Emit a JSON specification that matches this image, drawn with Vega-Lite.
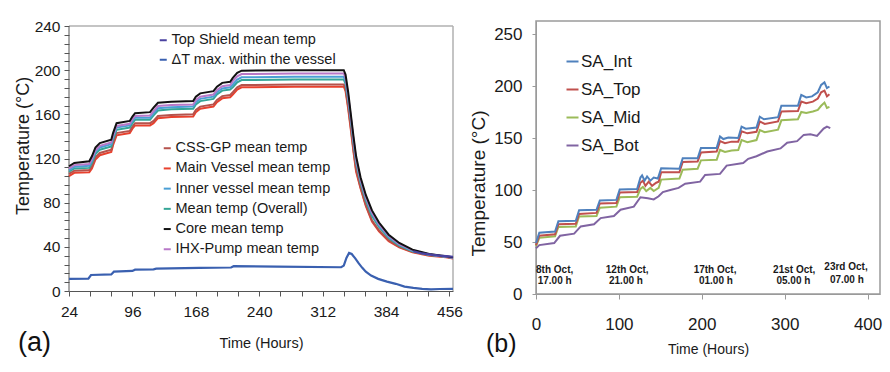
{
"$schema": "https://vega.github.io/schema/vega-lite/v6.json",
"padding": {"left": 14, "top": 19, "right": 0, "bottom": 0},
"background": "white",
"spacing": 83,
"bounds": "flush",
"resolve": {"scale": {"color": "independent", "stroke": "independent", "x": "independent", "y": "independent"}, "legend": {"color": "independent", "stroke": "independent"}},
"config": {
  "view": {"stroke": null},
  "font": "Liberation Sans",
  "axis": {"grid": false, "labelFont": "Liberation Sans", "titleFont": "Liberation Sans", "titleFontWeight": "normal", "labelColor": "#1a1a1a", "titleColor": "#1a1a1a", "labelOverlap": false, "labelFlush": false, "labelSeparation": 0},
  "legend": {"labelFont": "Liberation Sans", "labelColor": "#1a1a1a", "symbolType": "stroke", "padding": 0, "labelLimit": 400}
},
"hconcat": [
{
  "width": 384, "height": 270,
  "title": {"text": "(a)", "orient": "bottom", "anchor": "start", "frame": "group", "font": "Liberation Sans", "fontSize": 27, "fontWeight": "normal", "color": "#111", "dx": -51, "offset": -20},
  "encoding": {
    "x": {"field": "t", "type": "quantitative", "scale": {"domain": [24, 460], "nice": false, "zero": false},
          "axis": {"values": [24,48,72,96,120,144,168,192,216,240,264,288,312,336,360,384,408,432,456], "labelExpr": "(datum.value-24)%72==0 ? datum.label : ''", "labelOverlap": false, "labelSeparation": 0, "title": "Time (Hours)", "titleFontSize": 14.5, "titleX": 192, "titleY": 52.5, "titleBaseline": "middle", "labelFontSize": 15.5, "tickSize": 5, "labelPadding": 8, "domainColor": "#555", "tickColor": "#555"}},
    "y": {"field": "v", "type": "quantitative", "scale": {"domain": [0, 244.53], "nice": false, "zero": true},
          "axis": {"values": [0,8,16,24,32,40,48,56,64,72,80,88,96,104,112,120,128,136,144,152,160,168,176,184,192,200,208,216,224,232,240], "labelExpr": "datum.value%40==0 ? datum.label : ''", "labelOverlap": false, "labelSeparation": 0, "domain": false, "title": "Temperature (°C)", "titleFontSize": 18, "titleAngle": -90, "titleX": -45.5, "titleY": 124.5, "titleBaseline": "middle", "titleAlign": "center", "labelFontSize": 15.5, "tickSize": 5, "labelPadding": 4, "tickColor": "#555"}}
  },
  "layer": [
    {"data": {"values": [{"t": 24, "t2": 460, "v": 240}]}, "mark": {"type": "rule", "color": "#b0b0b0", "strokeWidth": 1.5}, "encoding": {"x2": {"field": "t2"}}},
    {"data": {"values": [{"t": 460, "v": 0, "v2": 240}]}, "mark": {"type": "rule", "color": "#b0b0b0", "strokeWidth": 1.5}, "encoding": {"y2": {"field": "v2"}}},
    {"data": {"values": [{"t": 24, "v": 0, "v2": 240}]}, "mark": {"type": "rule", "color": "#555", "strokeWidth": 1}, "encoding": {"y2": {"field": "v2"}}},
    {
      "data": {"values": [
{"s":"Main Vessel mean temp","t":24,"v":104},{"s":"Main Vessel mean temp","t":30,"v":107},{"s":"Main Vessel mean temp","t":47,"v":107.5},{"s":"Main Vessel mean temp","t":50,"v":111},{"s":"Main Vessel mean temp","t":54,"v":119},{"s":"Main Vessel mean temp","t":59,"v":123},{"s":"Main Vessel mean temp","t":72,"v":126},{"s":"Main Vessel mean temp","t":74,"v":132},{"s":"Main Vessel mean temp","t":78,"v":141},{"s":"Main Vessel mean temp","t":93,"v":143},{"s":"Main Vessel mean temp","t":96,"v":147},{"s":"Main Vessel mean temp","t":99,"v":150},{"s":"Main Vessel mean temp","t":116,"v":150},{"s":"Main Vessel mean temp","t":120,"v":152},{"s":"Main Vessel mean temp","t":125,"v":156.5},{"s":"Main Vessel mean temp","t":140,"v":157.5},{"s":"Main Vessel mean temp","t":165,"v":158},{"s":"Main Vessel mean temp","t":168,"v":162},{"s":"Main Vessel mean temp","t":173,"v":165},{"s":"Main Vessel mean temp","t":188,"v":167},{"s":"Main Vessel mean temp","t":192,"v":171},{"s":"Main Vessel mean temp","t":198,"v":174.5},{"s":"Main Vessel mean temp","t":207,"v":175.5},{"s":"Main Vessel mean temp","t":210,"v":178},{"s":"Main Vessel mean temp","t":215,"v":182.5},{"s":"Main Vessel mean temp","t":220,"v":184.5},{"s":"Main Vessel mean temp","t":280,"v":185},{"s":"Main Vessel mean temp","t":336,"v":185},{"s":"Main Vessel mean temp","t":338,"v":181},{"s":"Main Vessel mean temp","t":341,"v":165},{"s":"Main Vessel mean temp","t":344,"v":146},{"s":"Main Vessel mean temp","t":347,"v":126},{"s":"Main Vessel mean temp","t":350,"v":108},{"s":"Main Vessel mean temp","t":355,"v":93},{"s":"Main Vessel mean temp","t":361,"v":77},{"s":"Main Vessel mean temp","t":368,"v":63},{"s":"Main Vessel mean temp","t":376,"v":54},{"s":"Main Vessel mean temp","t":387,"v":45},{"s":"Main Vessel mean temp","t":399,"v":39.5},{"s":"Main Vessel mean temp","t":414,"v":35},{"s":"Main Vessel mean temp","t":433,"v":32},{"s":"Main Vessel mean temp","t":452,"v":30.5},{"s":"Main Vessel mean temp","t":460,"v":29.5},
{"s":"CSS-GP mean temp","t":24,"v":106},{"s":"CSS-GP mean temp","t":30,"v":109},{"s":"CSS-GP mean temp","t":47,"v":109.5},{"s":"CSS-GP mean temp","t":50,"v":113},{"s":"CSS-GP mean temp","t":54,"v":121},{"s":"CSS-GP mean temp","t":59,"v":125},{"s":"CSS-GP mean temp","t":72,"v":128},{"s":"CSS-GP mean temp","t":74,"v":134},{"s":"CSS-GP mean temp","t":78,"v":143},{"s":"CSS-GP mean temp","t":93,"v":145},{"s":"CSS-GP mean temp","t":96,"v":149},{"s":"CSS-GP mean temp","t":99,"v":152},{"s":"CSS-GP mean temp","t":116,"v":152},{"s":"CSS-GP mean temp","t":120,"v":154},{"s":"CSS-GP mean temp","t":125,"v":158.5},{"s":"CSS-GP mean temp","t":140,"v":159.5},{"s":"CSS-GP mean temp","t":165,"v":160},{"s":"CSS-GP mean temp","t":168,"v":164},{"s":"CSS-GP mean temp","t":173,"v":167},{"s":"CSS-GP mean temp","t":188,"v":169},{"s":"CSS-GP mean temp","t":192,"v":173},{"s":"CSS-GP mean temp","t":198,"v":176.5},{"s":"CSS-GP mean temp","t":207,"v":177.5},{"s":"CSS-GP mean temp","t":210,"v":180},{"s":"CSS-GP mean temp","t":215,"v":184.5},{"s":"CSS-GP mean temp","t":220,"v":186.5},{"s":"CSS-GP mean temp","t":280,"v":187},{"s":"CSS-GP mean temp","t":336,"v":187},{"s":"CSS-GP mean temp","t":338,"v":183},{"s":"CSS-GP mean temp","t":341,"v":167},{"s":"CSS-GP mean temp","t":344,"v":148},{"s":"CSS-GP mean temp","t":347,"v":128},{"s":"CSS-GP mean temp","t":350,"v":110},{"s":"CSS-GP mean temp","t":355,"v":94},{"s":"CSS-GP mean temp","t":361,"v":78},{"s":"CSS-GP mean temp","t":368,"v":64},{"s":"CSS-GP mean temp","t":376,"v":55},{"s":"CSS-GP mean temp","t":387,"v":46},{"s":"CSS-GP mean temp","t":399,"v":40},{"s":"CSS-GP mean temp","t":414,"v":35.5},{"s":"CSS-GP mean temp","t":433,"v":32.5},{"s":"CSS-GP mean temp","t":452,"v":31},{"s":"CSS-GP mean temp","t":460,"v":30},
{"s":"Mean temp (Overall)","t":24,"v":108},{"s":"Mean temp (Overall)","t":30,"v":111},{"s":"Mean temp (Overall)","t":47,"v":111.5},{"s":"Mean temp (Overall)","t":50,"v":116},{"s":"Mean temp (Overall)","t":54,"v":124},{"s":"Mean temp (Overall)","t":59,"v":128},{"s":"Mean temp (Overall)","t":72,"v":131},{"s":"Mean temp (Overall)","t":74,"v":137},{"s":"Mean temp (Overall)","t":78,"v":146},{"s":"Mean temp (Overall)","t":93,"v":148},{"s":"Mean temp (Overall)","t":96,"v":152},{"s":"Mean temp (Overall)","t":99,"v":155},{"s":"Mean temp (Overall)","t":116,"v":155},{"s":"Mean temp (Overall)","t":120,"v":159},{"s":"Mean temp (Overall)","t":125,"v":163.5},{"s":"Mean temp (Overall)","t":140,"v":164.5},{"s":"Mean temp (Overall)","t":165,"v":165},{"s":"Mean temp (Overall)","t":168,"v":169},{"s":"Mean temp (Overall)","t":173,"v":172},{"s":"Mean temp (Overall)","t":188,"v":174},{"s":"Mean temp (Overall)","t":192,"v":178},{"s":"Mean temp (Overall)","t":198,"v":181.5},{"s":"Mean temp (Overall)","t":207,"v":182.5},{"s":"Mean temp (Overall)","t":210,"v":184.5},{"s":"Mean temp (Overall)","t":215,"v":189},{"s":"Mean temp (Overall)","t":220,"v":191},{"s":"Mean temp (Overall)","t":280,"v":191.5},{"s":"Mean temp (Overall)","t":336,"v":191.5},{"s":"Mean temp (Overall)","t":338,"v":187.5},{"s":"Mean temp (Overall)","t":341,"v":173},{"s":"Mean temp (Overall)","t":344,"v":154},{"s":"Mean temp (Overall)","t":347,"v":134},{"s":"Mean temp (Overall)","t":350,"v":116},{"s":"Mean temp (Overall)","t":355,"v":98},{"s":"Mean temp (Overall)","t":361,"v":82},{"s":"Mean temp (Overall)","t":368,"v":68},{"s":"Mean temp (Overall)","t":376,"v":58},{"s":"Mean temp (Overall)","t":387,"v":48},{"s":"Mean temp (Overall)","t":399,"v":41},{"s":"Mean temp (Overall)","t":414,"v":36},{"s":"Mean temp (Overall)","t":433,"v":32.5},{"s":"Mean temp (Overall)","t":452,"v":31},{"s":"Mean temp (Overall)","t":460,"v":30},
{"s":"Inner vessel mean temp","t":24,"v":109.5},{"s":"Inner vessel mean temp","t":30,"v":112.5},{"s":"Inner vessel mean temp","t":47,"v":113.5},{"s":"Inner vessel mean temp","t":50,"v":118},{"s":"Inner vessel mean temp","t":54,"v":126},{"s":"Inner vessel mean temp","t":59,"v":130},{"s":"Inner vessel mean temp","t":72,"v":133},{"s":"Inner vessel mean temp","t":74,"v":139},{"s":"Inner vessel mean temp","t":78,"v":148},{"s":"Inner vessel mean temp","t":93,"v":150},{"s":"Inner vessel mean temp","t":96,"v":154},{"s":"Inner vessel mean temp","t":99,"v":157},{"s":"Inner vessel mean temp","t":116,"v":157},{"s":"Inner vessel mean temp","t":120,"v":161},{"s":"Inner vessel mean temp","t":125,"v":165.5},{"s":"Inner vessel mean temp","t":140,"v":166.5},{"s":"Inner vessel mean temp","t":165,"v":167},{"s":"Inner vessel mean temp","t":168,"v":171},{"s":"Inner vessel mean temp","t":173,"v":174},{"s":"Inner vessel mean temp","t":188,"v":176},{"s":"Inner vessel mean temp","t":192,"v":180},{"s":"Inner vessel mean temp","t":198,"v":183.5},{"s":"Inner vessel mean temp","t":207,"v":184.5},{"s":"Inner vessel mean temp","t":210,"v":187},{"s":"Inner vessel mean temp","t":215,"v":191.5},{"s":"Inner vessel mean temp","t":220,"v":193.5},{"s":"Inner vessel mean temp","t":280,"v":194},{"s":"Inner vessel mean temp","t":336,"v":194},{"s":"Inner vessel mean temp","t":338,"v":190},{"s":"Inner vessel mean temp","t":341,"v":175},{"s":"Inner vessel mean temp","t":344,"v":156},{"s":"Inner vessel mean temp","t":347,"v":136},{"s":"Inner vessel mean temp","t":350,"v":118},{"s":"Inner vessel mean temp","t":355,"v":100},{"s":"Inner vessel mean temp","t":361,"v":84},{"s":"Inner vessel mean temp","t":368,"v":70},{"s":"Inner vessel mean temp","t":376,"v":59.5},{"s":"Inner vessel mean temp","t":387,"v":49},{"s":"Inner vessel mean temp","t":399,"v":42},{"s":"Inner vessel mean temp","t":414,"v":36.5},{"s":"Inner vessel mean temp","t":433,"v":33},{"s":"Inner vessel mean temp","t":452,"v":31},{"s":"Inner vessel mean temp","t":460,"v":30},
{"s":"IHX-Pump mean temp","t":24,"v":111},{"s":"IHX-Pump mean temp","t":30,"v":114},{"s":"IHX-Pump mean temp","t":47,"v":115},{"s":"IHX-Pump mean temp","t":50,"v":119.5},{"s":"IHX-Pump mean temp","t":54,"v":127.5},{"s":"IHX-Pump mean temp","t":59,"v":131.5},{"s":"IHX-Pump mean temp","t":72,"v":134.5},{"s":"IHX-Pump mean temp","t":74,"v":140.5},{"s":"IHX-Pump mean temp","t":78,"v":149.5},{"s":"IHX-Pump mean temp","t":93,"v":151.5},{"s":"IHX-Pump mean temp","t":96,"v":155.5},{"s":"IHX-Pump mean temp","t":99,"v":158.5},{"s":"IHX-Pump mean temp","t":116,"v":159},{"s":"IHX-Pump mean temp","t":120,"v":163},{"s":"IHX-Pump mean temp","t":125,"v":167.5},{"s":"IHX-Pump mean temp","t":140,"v":168.5},{"s":"IHX-Pump mean temp","t":165,"v":169},{"s":"IHX-Pump mean temp","t":168,"v":173},{"s":"IHX-Pump mean temp","t":173,"v":176},{"s":"IHX-Pump mean temp","t":188,"v":178},{"s":"IHX-Pump mean temp","t":192,"v":182},{"s":"IHX-Pump mean temp","t":198,"v":185.5},{"s":"IHX-Pump mean temp","t":207,"v":186.5},{"s":"IHX-Pump mean temp","t":210,"v":190},{"s":"IHX-Pump mean temp","t":215,"v":194.5},{"s":"IHX-Pump mean temp","t":220,"v":196.5},{"s":"IHX-Pump mean temp","t":280,"v":197},{"s":"IHX-Pump mean temp","t":336,"v":197},{"s":"IHX-Pump mean temp","t":338,"v":193},{"s":"IHX-Pump mean temp","t":341,"v":177},{"s":"IHX-Pump mean temp","t":344,"v":157.5},{"s":"IHX-Pump mean temp","t":347,"v":137.5},{"s":"IHX-Pump mean temp","t":350,"v":119.5},{"s":"IHX-Pump mean temp","t":355,"v":101},{"s":"IHX-Pump mean temp","t":361,"v":85},{"s":"IHX-Pump mean temp","t":368,"v":71},{"s":"IHX-Pump mean temp","t":376,"v":60.5},{"s":"IHX-Pump mean temp","t":387,"v":50},{"s":"IHX-Pump mean temp","t":399,"v":42.5},{"s":"IHX-Pump mean temp","t":414,"v":37},{"s":"IHX-Pump mean temp","t":433,"v":33},{"s":"IHX-Pump mean temp","t":452,"v":31.2},{"s":"IHX-Pump mean temp","t":460,"v":30.2},
{"s":"Core mean temp","t":24,"v":113},{"s":"Core mean temp","t":30,"v":116},{"s":"Core mean temp","t":47,"v":117.5},{"s":"Core mean temp","t":50,"v":122},{"s":"Core mean temp","t":54,"v":130},{"s":"Core mean temp","t":59,"v":134},{"s":"Core mean temp","t":72,"v":137},{"s":"Core mean temp","t":74,"v":143},{"s":"Core mean temp","t":78,"v":152},{"s":"Core mean temp","t":93,"v":154},{"s":"Core mean temp","t":96,"v":158},{"s":"Core mean temp","t":99,"v":161},{"s":"Core mean temp","t":116,"v":162},{"s":"Core mean temp","t":120,"v":166},{"s":"Core mean temp","t":125,"v":170.5},{"s":"Core mean temp","t":140,"v":171.5},{"s":"Core mean temp","t":165,"v":172},{"s":"Core mean temp","t":168,"v":176},{"s":"Core mean temp","t":173,"v":179},{"s":"Core mean temp","t":188,"v":181},{"s":"Core mean temp","t":192,"v":185},{"s":"Core mean temp","t":198,"v":188.5},{"s":"Core mean temp","t":207,"v":189.5},{"s":"Core mean temp","t":210,"v":193},{"s":"Core mean temp","t":215,"v":197.5},{"s":"Core mean temp","t":220,"v":199.5},{"s":"Core mean temp","t":280,"v":200},{"s":"Core mean temp","t":336,"v":200},{"s":"Core mean temp","t":338,"v":196},{"s":"Core mean temp","t":341,"v":180},{"s":"Core mean temp","t":344,"v":160},{"s":"Core mean temp","t":347,"v":140},{"s":"Core mean temp","t":350,"v":122},{"s":"Core mean temp","t":355,"v":103},{"s":"Core mean temp","t":361,"v":87},{"s":"Core mean temp","t":368,"v":73},{"s":"Core mean temp","t":376,"v":62},{"s":"Core mean temp","t":387,"v":51},{"s":"Core mean temp","t":399,"v":43.5},{"s":"Core mean temp","t":414,"v":37.5},{"s":"Core mean temp","t":433,"v":33.5},{"s":"Core mean temp","t":452,"v":31.5},{"s":"Core mean temp","t":460,"v":30.5}
      ]},
      "mark": {"type": "line", "strokeWidth": 2},
      "encoding": {
        "color": {"field": "s", "type": "nominal",
                  "scale": {"domain": ["CSS-GP mean temp", "Main Vessel mean temp", "Inner vessel mean temp", "Mean temp (Overall)", "Core mean temp", "IHX-Pump mean temp"], "range": ["#b5524c", "#e8412e", "#4b9fd5", "#35a596", "#111111", "#b878c8"]},
                  "legend": {"title": null, "orient": "none", "legendX": 91, "legendY": 120, "labelFontSize": 14.5, "symbolSize": 49, "symbolStrokeWidth": 2, "labelOffset": 1, "rowPadding": 5.2}}
      }
    },
    {
      "data": {"values": [
{"s":"ΔT max. within the vessel","t":24,"v":11},{"s":"ΔT max. within the vessel","t":46,"v":11.2},{"s":"ΔT max. within the vessel","t":49,"v":14.5},{"s":"ΔT max. within the vessel","t":72,"v":15},{"s":"ΔT max. within the vessel","t":75,"v":17.5},{"s":"ΔT max. within the vessel","t":96,"v":18.2},{"s":"ΔT max. within the vessel","t":99,"v":19.3},{"s":"ΔT max. within the vessel","t":120,"v":19.6},{"s":"ΔT max. within the vessel","t":123,"v":20.3},{"s":"ΔT max. within the vessel","t":172,"v":21},{"s":"ΔT max. within the vessel","t":208,"v":21.3},{"s":"ΔT max. within the vessel","t":211,"v":22.5},{"s":"ΔT max. within the vessel","t":260,"v":22},{"s":"ΔT max. within the vessel","t":333,"v":21.5},{"s":"ΔT max. within the vessel","t":336,"v":23},{"s":"ΔT max. within the vessel","t":339,"v":30},{"s":"ΔT max. within the vessel","t":342,"v":34.5},{"s":"ΔT max. within the vessel","t":345,"v":33.5},{"s":"ΔT max. within the vessel","t":349,"v":29.5},{"s":"ΔT max. within the vessel","t":353,"v":25},{"s":"ΔT max. within the vessel","t":357,"v":21},{"s":"ΔT max. within the vessel","t":361,"v":17.5},{"s":"ΔT max. within the vessel","t":367,"v":14},{"s":"ΔT max. within the vessel","t":375,"v":11},{"s":"ΔT max. within the vessel","t":385,"v":8.5},{"s":"ΔT max. within the vessel","t":395,"v":6.5},{"s":"ΔT max. within the vessel","t":405,"v":4},{"s":"ΔT max. within the vessel","t":415,"v":2.8},{"s":"ΔT max. within the vessel","t":425,"v":2},{"s":"ΔT max. within the vessel","t":435,"v":1.5},{"s":"ΔT max. within the vessel","t":445,"v":1.8},{"s":"ΔT max. within the vessel","t":460,"v":2},
{"s":"Top Shield mean temp","t":415,"v":36},{"s":"Top Shield mean temp","t":425,"v":34},{"s":"Top Shield mean temp","t":435,"v":33},{"s":"Top Shield mean temp","t":445,"v":32},{"s":"Top Shield mean temp","t":452,"v":31.5},{"s":"Top Shield mean temp","t":460,"v":31}
      ]},
      "mark": {"type": "line", "strokeWidth": 2.2},
      "encoding": {
        "stroke": {"field": "s", "type": "nominal",
                   "scale": {"domain": ["Top Shield mean temp", "ΔT max. within the vessel"], "range": ["#4a42a0", "#3a60b0"]},
                   "legend": {"title": null, "orient": "none", "legendX": 87, "legendY": 12, "labelFontSize": 14.5, "symbolSize": 49, "symbolStrokeWidth": 2, "labelOffset": 1, "rowPadding": 4.5}}
      }
    }
  ]
},
{
  "width": 344, "height": 273,
  "view": {"stroke": "#9a9a9a", "strokeWidth": 1.5},
  "title": {"text": "(b)", "orient": "bottom", "anchor": "start", "frame": "group", "font": "Liberation Sans", "fontSize": 25, "fontWeight": "normal", "color": "#111", "dx": -50, "offset": -25},
  "layer": [
    {
      "data": {"values": [
{"s":"SA_Bot","t":0,"v":44},{"s":"SA_Bot","t":4,"v":47},{"s":"SA_Bot","t":22,"v":49},{"s":"SA_Bot","t":29,"v":56},{"s":"SA_Bot","t":46,"v":58},{"s":"SA_Bot","t":54,"v":65},{"s":"SA_Bot","t":70,"v":67},{"s":"SA_Bot","t":78,"v":73},{"s":"SA_Bot","t":94,"v":75},{"s":"SA_Bot","t":102,"v":81},{"s":"SA_Bot","t":118,"v":84},{"s":"SA_Bot","t":126,"v":93},{"s":"SA_Bot","t":135,"v":92},{"s":"SA_Bot","t":142,"v":91},{"s":"SA_Bot","t":148,"v":94},{"s":"SA_Bot","t":153,"v":98},{"s":"SA_Bot","t":162,"v":100},{"s":"SA_Bot","t":172,"v":102},{"s":"SA_Bot","t":180,"v":106},{"s":"SA_Bot","t":198,"v":108},{"s":"SA_Bot","t":204,"v":114.5},{"s":"SA_Bot","t":222,"v":115.5},{"s":"SA_Bot","t":230,"v":123.5},{"s":"SA_Bot","t":250,"v":126},{"s":"SA_Bot","t":256,"v":130},{"s":"SA_Bot","t":266,"v":132.5},{"s":"SA_Bot","t":279,"v":137},{"s":"SA_Bot","t":295,"v":140},{"s":"SA_Bot","t":303,"v":145.5},{"s":"SA_Bot","t":315,"v":147},{"s":"SA_Bot","t":323,"v":153},{"s":"SA_Bot","t":331,"v":153.5},{"s":"SA_Bot","t":339,"v":152},{"s":"SA_Bot","t":347,"v":159},{"s":"SA_Bot","t":351,"v":161},{"s":"SA_Bot","t":355,"v":159.5},
{"s":"SA_Mid","t":0,"v":46},{"s":"SA_Mid","t":4,"v":54},{"s":"SA_Mid","t":23,"v":55.5},{"s":"SA_Mid","t":27,"v":64.5},{"s":"SA_Mid","t":48,"v":65},{"s":"SA_Mid","t":52,"v":74.5},{"s":"SA_Mid","t":73,"v":75},{"s":"SA_Mid","t":77,"v":83},{"s":"SA_Mid","t":97,"v":84},{"s":"SA_Mid","t":101,"v":93},{"s":"SA_Mid","t":122,"v":93.5},{"s":"SA_Mid","t":126,"v":101},{"s":"SA_Mid","t":129,"v":103},{"s":"SA_Mid","t":133,"v":99},{"s":"SA_Mid","t":138,"v":102},{"s":"SA_Mid","t":142,"v":99},{"s":"SA_Mid","t":148,"v":102},{"s":"SA_Mid","t":151,"v":110},{"s":"SA_Mid","t":173,"v":111},{"s":"SA_Mid","t":177,"v":119.5},{"s":"SA_Mid","t":195,"v":120.5},{"s":"SA_Mid","t":199,"v":128.5},{"s":"SA_Mid","t":218,"v":129},{"s":"SA_Mid","t":222,"v":138.5},{"s":"SA_Mid","t":228,"v":136.5},{"s":"SA_Mid","t":236,"v":138},{"s":"SA_Mid","t":244,"v":138.5},{"s":"SA_Mid","t":248,"v":148},{"s":"SA_Mid","t":255,"v":146},{"s":"SA_Mid","t":266,"v":148},{"s":"SA_Mid","t":270,"v":157.5},{"s":"SA_Mid","t":276,"v":155.5},{"s":"SA_Mid","t":292,"v":158},{"s":"SA_Mid","t":296,"v":167},{"s":"SA_Mid","t":316,"v":168},{"s":"SA_Mid","t":320,"v":175},{"s":"SA_Mid","t":326,"v":174},{"s":"SA_Mid","t":334,"v":175.5},{"s":"SA_Mid","t":340,"v":177},{"s":"SA_Mid","t":344,"v":181},{"s":"SA_Mid","t":348,"v":184},{"s":"SA_Mid","t":351,"v":179},{"s":"SA_Mid","t":354,"v":180},
{"s":"SA_Top","t":0,"v":47},{"s":"SA_Top","t":4,"v":56},{"s":"SA_Top","t":23,"v":57.5},{"s":"SA_Top","t":27,"v":67},{"s":"SA_Top","t":48,"v":67.5},{"s":"SA_Top","t":52,"v":77},{"s":"SA_Top","t":73,"v":78},{"s":"SA_Top","t":77,"v":87},{"s":"SA_Top","t":97,"v":87.5},{"s":"SA_Top","t":101,"v":97.5},{"s":"SA_Top","t":122,"v":98},{"s":"SA_Top","t":126,"v":107},{"s":"SA_Top","t":129,"v":109},{"s":"SA_Top","t":132,"v":104},{"s":"SA_Top","t":136,"v":108},{"s":"SA_Top","t":140,"v":104},{"s":"SA_Top","t":145,"v":107},{"s":"SA_Top","t":148,"v":108},{"s":"SA_Top","t":151,"v":117},{"s":"SA_Top","t":173,"v":117},{"s":"SA_Top","t":177,"v":127},{"s":"SA_Top","t":195,"v":127.5},{"s":"SA_Top","t":199,"v":136},{"s":"SA_Top","t":218,"v":137},{"s":"SA_Top","t":222,"v":147},{"s":"SA_Top","t":228,"v":145},{"s":"SA_Top","t":236,"v":146.5},{"s":"SA_Top","t":244,"v":146.5},{"s":"SA_Top","t":248,"v":156.5},{"s":"SA_Top","t":255,"v":154.5},{"s":"SA_Top","t":266,"v":156},{"s":"SA_Top","t":270,"v":166},{"s":"SA_Top","t":276,"v":163.5},{"s":"SA_Top","t":292,"v":166},{"s":"SA_Top","t":296,"v":175.5},{"s":"SA_Top","t":316,"v":176},{"s":"SA_Top","t":320,"v":185},{"s":"SA_Top","t":326,"v":183.5},{"s":"SA_Top","t":334,"v":185},{"s":"SA_Top","t":340,"v":188},{"s":"SA_Top","t":344,"v":194},{"s":"SA_Top","t":348,"v":195.5},{"s":"SA_Top","t":351,"v":190},{"s":"SA_Top","t":354,"v":192},
{"s":"SA_Int","t":0,"v":49},{"s":"SA_Int","t":4,"v":59},{"s":"SA_Int","t":23,"v":60},{"s":"SA_Int","t":27,"v":70},{"s":"SA_Int","t":48,"v":70.5},{"s":"SA_Int","t":52,"v":80.5},{"s":"SA_Int","t":73,"v":81},{"s":"SA_Int","t":77,"v":90},{"s":"SA_Int","t":97,"v":90.5},{"s":"SA_Int","t":101,"v":100.5},{"s":"SA_Int","t":122,"v":101},{"s":"SA_Int","t":126,"v":112},{"s":"SA_Int","t":128,"v":114},{"s":"SA_Int","t":131,"v":109},{"s":"SA_Int","t":134,"v":113},{"s":"SA_Int","t":138,"v":109},{"s":"SA_Int","t":142,"v":112},{"s":"SA_Int","t":147,"v":111},{"s":"SA_Int","t":151,"v":121},{"s":"SA_Int","t":173,"v":120.5},{"s":"SA_Int","t":177,"v":130.5},{"s":"SA_Int","t":195,"v":130.5},{"s":"SA_Int","t":199,"v":140.5},{"s":"SA_Int","t":218,"v":140.5},{"s":"SA_Int","t":222,"v":151.5},{"s":"SA_Int","t":226,"v":149},{"s":"SA_Int","t":232,"v":150.5},{"s":"SA_Int","t":244,"v":150},{"s":"SA_Int","t":248,"v":161},{"s":"SA_Int","t":253,"v":159},{"s":"SA_Int","t":266,"v":160},{"s":"SA_Int","t":270,"v":170.5},{"s":"SA_Int","t":275,"v":168},{"s":"SA_Int","t":292,"v":170},{"s":"SA_Int","t":296,"v":181},{"s":"SA_Int","t":316,"v":181},{"s":"SA_Int","t":320,"v":191.5},{"s":"SA_Int","t":326,"v":189},{"s":"SA_Int","t":333,"v":190},{"s":"SA_Int","t":340,"v":194},{"s":"SA_Int","t":344,"v":201},{"s":"SA_Int","t":348,"v":203.5},{"s":"SA_Int","t":351,"v":198},{"s":"SA_Int","t":354,"v":199.5}
      ]},
      "mark": {"type": "line", "strokeWidth": 2},
      "encoding": {
        "x": {"field": "t", "type": "quantitative", "scale": {"domain": [0, 415], "nice": false, "zero": false},
              "axis": {"values": [0,100,200,300,400], "title": "Time (Hours)", "titleFontSize": 14, "titleX": 172, "titleY": 55.5, "titleBaseline": "middle", "labelFontSize": 17, "tickSize": 5, "labelPadding": 17, "domainColor": "#9a9a9a", "tickColor": "#9a9a9a"}},
        "y": {"field": "v", "type": "quantitative", "scale": {"domain": [0, 262.5], "nice": false},
              "axis": {"values": [0,50,100,150,200,250], "title": "Temperature (°C)", "titleFontSize": 19, "titleAngle": -90, "titleX": -58, "titleY": 162, "titleBaseline": "middle", "titleAlign": "center", "labelFontSize": 17, "tickSize": 4, "labelPadding": 10, "domainColor": "#9a9a9a", "tickColor": "#9a9a9a"}},
        "color": {"field": "s", "type": "nominal",
                  "scale": {"domain": ["SA_Int", "SA_Top", "SA_Mid", "SA_Bot"], "range": ["#4F81BD", "#C0504D", "#9BBB59", "#8064A2"]},
                  "legend": {"title": null, "orient": "none", "legendX": 28, "legendY": 32, "labelFontSize": 17, "symbolSize": 144, "symbolStrokeWidth": 2, "labelOffset": 0, "rowPadding": 10}}
      }
    },
    {
      "data": {"values": [
{"txt":"8th Oct,","t":22.5,"v":23.4},{"txt":"17.00 h","t":22.5,"v":12.2},
{"txt":"12th Oct,","t":110,"v":23.4},{"txt":"21.00 h","t":108.5,"v":12.2},
{"txt":"17th Oct,","t":216,"v":23.4},{"txt":"01.00 h","t":217,"v":12.2},
{"txt":"21st Oct,","t":311.5,"v":23.4},{"txt":"05.00 h","t":310.5,"v":12.2},
{"txt":"23rd Oct,","t":374,"v":25.7},{"txt":"07.00 h","t":375,"v":13.8}
      ]},
      "mark": {"type": "text", "font": "Liberation Sans", "fontWeight": "bold", "fontSize": 10, "color": "#1a1a1a", "baseline": "middle", "align": "center"},
      "encoding": {
        "x": {"field": "t", "type": "quantitative"},
        "y": {"field": "v", "type": "quantitative"},
        "text": {"field": "txt", "type": "nominal"}
      }
    }
  ]
}
]
}
